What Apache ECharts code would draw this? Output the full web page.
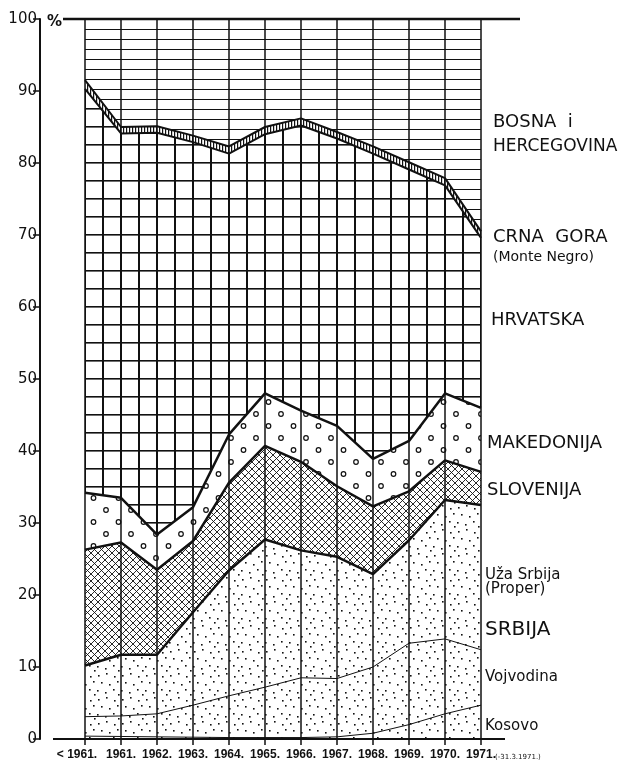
<!DOCTYPE html>
<html lang="en">
<head>
    <meta charset="UTF-8">
    <title>Yugoslavia by republic</title>
    <script src="https://cdn.jsdelivr.net/npm/echarts@6/dist/echarts.min.js"></script>
    <style>
        html, body { margin: 0; padding: 0; background: #fff; }
        #chart { width: 624px; height: 772px; }
    </style>
</head>
<body>
<div id="chart"></div>
<script>
    // years along the bottom, the first one is "before 1961"
    var years = ['< 1961.', '1961.', '1962.', '1963.', '1964.', '1965.', '1966.', '1967.', '1968.', '1969.', '1970.', '1971.'];
    var yTicks = [0, 10, 20, 30, 40, 50, 60, 70, 80, 90, 100];

    // shares in %, stacked from the bottom up
    var kosovo     = [0.4, 0.35, 0.3, 0.25, 0.2, 0.2, 0.2, 0.3, 0.8, 2.0, 3.5, 4.7];
    var vojvodina  = [2.7, 2.85, 3.2, 4.45, 5.8, 7.0, 8.3, 8.1, 9.2, 11.3, 10.4, 7.7];
    var uzaSrbija  = [7.1, 8.5, 8.2, 12.9, 17.4, 20.5, 17.7, 16.9, 12.9, 14.3, 19.3, 20.1];
    var slovenija  = [16.1, 15.6, 11.8, 9.9, 12.2, 13.0, 12.3, 9.8, 9.4, 6.8, 5.5, 4.6];
    var makedonija = [7.9, 6.2, 4.9, 4.7, 6.7, 7.3, 7.1, 8.4, 6.6, 7.0, 9.3, 8.9];
    var hrvatska   = [56.1, 50.6, 55.8, 50.7, 39.0, 36.0, 39.6, 39.9, 42.4, 37.7, 28.9, 23.6];
    var crnaGora   = [1.2, 0.9, 0.9, 0.9, 1.0, 1.0, 1.0, 0.9, 1.0, 1.0, 1.0, 0.9];
    var bosna      = [8.5, 15.0, 14.9, 16.2, 17.7, 15.0, 13.8, 15.7, 17.7, 19.9, 22.1, 29.5];

    var GRID_LEFT = 85, GRID_TOP = 19;

    function tile(w, h, draw) {
        var c = document.createElement('canvas');
        c.width = w;
        c.height = h;
        var ctx = c.getContext('2d');
        ctx.fillStyle = '#111';
        ctx.strokeStyle = '#111';
        draw(ctx);
        return {image: c, repeat: 'repeat'};
    }

    // fine dots (Srbija)
    var dotPts = [[2,3],[10,1],[18,4],[5,10],[13,12],[21,9],[1,18],[9,20],[17,17],[22,22]];
    var dots = tile(24, 24, function (ctx) {
        dotPts.forEach(function (p) { ctx.fillRect(p[0], p[1], 1.6, 1.6); });
    });
    // cross hatch (Slovenija)
    var cross = tile(7, 7, function (ctx) {
        ctx.lineWidth = 0.9;
        ctx.beginPath();
        ctx.moveTo(-1, -1); ctx.lineTo(8, 8);
        ctx.moveTo(8, -1); ctx.lineTo(-1, 8);
        ctx.stroke();
    });
    // small rings (Makedonija)
    var rings = tile(25, 24, function (ctx) {
        ctx.lineWidth = 1.2;
        ctx.beginPath(); ctx.arc(6, 6, 2.3, 0, Math.PI * 2); ctx.stroke();
        ctx.beginPath(); ctx.arc(18.5, 18, 2.3, 0, Math.PI * 2); ctx.stroke();
    });
    // square grid (Hrvatska), lined up with the chart grid
    var squares = tile(18, 18, function (ctx) {
        ctx.fillRect((GRID_LEFT - 1) % 18, 0, 2, 18);
        ctx.fillRect(0, (GRID_TOP - 1) % 18, 18, 1.6);
    });
    // vertical hatch (Crna Gora)
    var vhatch = tile(3, 4, function (ctx) {
        ctx.fillRect(0, 0, 1.2, 4);
    });
    // horizontal rules (Bosna i Hercegovina)
    var rules = tile(4, 10, function (ctx) {
        ctx.fillRect(0, GRID_TOP % 10, 4, 1.3);
    });

    function layer(name, data, fill, width) {
        return {
            name: name,
            type: 'line',
            stack: 'total',
            data: data,
            symbol: 'none',
            lineStyle: {color: '#111', width: width},
            areaStyle: {color: fill, opacity: 1},
            emphasis: {disabled: true},
            z: 3
        };
    }

    var chart = echarts.init(document.getElementById('chart'));
    var option = {
        animation: false,
        backgroundColor: '#fff',
        grid: {left: GRID_LEFT, top: GRID_TOP, width: 396, height: 720},
        xAxis: {
            type: 'category',
            boundaryGap: false,
            data: years,
            axisLine: {show: false},
            axisTick: {show: true, interval: 0, length: 6, lineStyle: {color: '#111', width: 1.5}},
            axisLabel: {
                interval: 0, margin: 10, color: '#111',
                fontFamily: 'Liberation Sans', fontWeight: 'bold', fontSize: 12,
                formatter: function (v, i) { return i === 0 ? '{first|' + v + '}' : v; },
                rich: {
                    first: {
                        fontFamily: 'Liberation Sans', fontWeight: 'bold', fontSize: 12,
                        color: '#111', padding: [0, 16, 0, 0]
                    }
                }
            },
            splitLine: {show: true, interval: 0, lineStyle: {color: '#111', width: 1.5}}
        },
        yAxis: {
            type: 'value',
            min: 0,
            max: 100,
            interval: 10,
            offset: 45,
            axisLine: {show: true, lineStyle: {color: '#111', width: 2}},
            axisTick: {show: true, length: 7, lineStyle: {color: '#111', width: 1.5}},
            axisLabel: {
                margin: 3, color: '#111', fontFamily: 'DejaVu Sans', fontSize: 15,
                formatter: function (v) { return yTicks.indexOf(v) >= 0 ? String(v) : ''; }
            },
            splitLine: {show: false}
        },
        series: [
            layer('Kosovo', kosovo, dots, 1),
            layer('Vojvodina', vojvodina, dots, 1),
            layer('Uža Srbija', uzaSrbija, dots, 2.5),
            layer('Slovenija', slovenija, cross, 2.5),
            layer('Makedonija', makedonija, rings, 2.5),
            layer('Hrvatska', hrvatska, squares, 2),
            layer('Crna Gora', crnaGora, vhatch, 2),
            layer('Bosna i Hercegovina', bosna, rules, 0)
        ]
    };
    chart.setOption(option);

    // frame lines and the labels on the right
    var lo = chart.convertToPixel({gridIndex: 0}, [0, 0]);
    var hi = chart.convertToPixel({gridIndex: 0}, [years.length - 1, 100]);

    function txt(x, y, s, size, weight) {
        return {
            type: 'text', x: x, y: y, z: 10,
            style: {
                text: s, fill: '#111', fontFamily: 'DejaVu Sans',
                fontSize: size, fontWeight: weight || 'normal',
                verticalAlign: 'middle', align: 'left'
            }
        };
    }

    var labels = [
        txt(493, 122, 'BOSNA  i', 18),
        txt(493, 147, 'HERCEGOVINA', 17),
        txt(493, 237, 'CRNA  GORA', 18),
        txt(493, 257, '(Monte Negro)', 14),
        txt(491, 320, 'HRVATSKA', 18),
        txt(487, 443, 'MAKEDONIJA', 18),
        txt(487, 490, 'SLOVENIJA', 18),
        txt(485, 575, 'Uža Srbija', 15),
        txt(485, 589, '(Proper)', 15),
        txt(485, 630, 'SRBIJA', 20),
        txt(485, 677, 'Vojvodina', 15),
        txt(485, 726, 'Kosovo', 15),
        txt(47, 22, '%', 15, 'bold'),
        txt(hi[0] + 14, lo[1] + 18, '(-31.3.1971.)', 7)
    ];

    chart.setOption({
        graphic: [
            {
                type: 'line', z: 10,
                shape: {x1: lo[0] - 22, y1: hi[1], x2: hi[0] + 39, y2: hi[1]},
                style: {stroke: '#111', lineWidth: 2.5}
            },
            {
                type: 'line', z: 10,
                shape: {x1: lo[0] - 32, y1: lo[1], x2: hi[0] + 24, y2: lo[1]},
                style: {stroke: '#111', lineWidth: 2}
            }
        ].concat(labels)
    });
</script>
</body>
</html>
